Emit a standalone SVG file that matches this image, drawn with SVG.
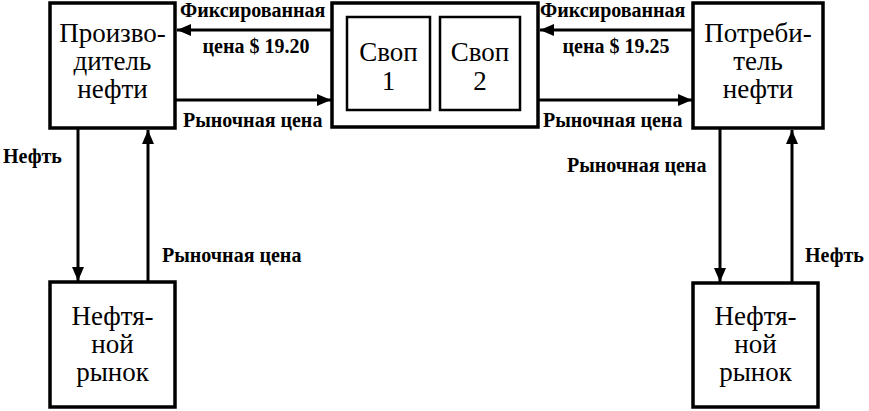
<svg xmlns="http://www.w3.org/2000/svg" width="869" height="411" viewBox="0 0 869 411">
<style>
.box{fill:#fff;stroke:#000;stroke-width:3.5}
.ibox{fill:#fff;stroke:#000;stroke-width:2.5}
.bt{font-family:'Liberation Serif','Times New Roman','DejaVu Serif','Noto Serif',serif;font-size:27px;text-anchor:middle;fill:#000}
.lb{font-family:'Liberation Serif','Times New Roman','DejaVu Serif','Noto Serif',serif;font-size:20px;font-weight:bold;fill:#000}
.ln{stroke:#000;stroke-width:3;fill:none}
</style>
<defs>
<marker id="ah" viewBox="0 0 14 12" refX="14" refY="6" markerWidth="14" markerHeight="12" markerUnits="userSpaceOnUse" orient="auto">
<path d="M0,0 L14,6 L0,12 Z" fill="#000"/>
</marker>
</defs>
<g id="connectors">
<line class="ln" x1="332" y1="30" x2="177" y2="30" marker-end="url(#ah)"/>
<line class="ln" x1="175" y1="100" x2="331" y2="100" marker-end="url(#ah)"/>
<line class="ln" x1="693" y1="30" x2="540" y2="30" marker-end="url(#ah)"/>
<line class="ln" x1="538" y1="100" x2="692" y2="100" marker-end="url(#ah)"/>
<line class="ln" x1="78" y1="128" x2="78" y2="281" marker-end="url(#ah)"/>
<line class="ln" x1="148" y1="282" x2="148" y2="130" marker-end="url(#ah)"/>
<line class="ln" x1="720" y1="128" x2="720" y2="282" marker-end="url(#ah)"/>
<line class="ln" x1="792" y1="283" x2="792" y2="130" marker-end="url(#ah)"/>
<text class="lb" x="180" y="17">Фиксированная</text>
<text class="lb" x="256" y="53" text-anchor="middle">цена $ 19.20</text>
<text class="lb" x="183" y="127">Рыночная цена</text>
<text class="lb" x="540" y="17">Фиксированная</text>
<text class="lb" x="616" y="53" text-anchor="middle">цена $ 19.25</text>
<text class="lb" x="543" y="127">Рыночная цена</text>
<text class="lb" x="3" y="163">Нефть</text>
<text class="lb" x="162" y="262">Рыночная цена</text>
<text class="lb" x="567" y="172">Рыночная цена</text>
<text class="lb" x="805" y="262">Нефть</text>
</g>
<g id="producer">
<rect class="box" x="50" y="3" width="125" height="125"/>
<text class="bt" x="112.5" y="42">Произво-</text>
<text class="bt" x="112.5" y="70">дитель</text>
<text class="bt" x="112.5" y="98">нефти</text>
</g>
<g id="swaps">
<rect class="box" x="332" y="3" width="206" height="124"/>
</g>
<g id="swap1">
<rect class="ibox" x="347" y="17" width="83" height="93"/>
<text class="bt" x="388.5" y="61">Своп</text>
<text class="bt" x="388.5" y="90">1</text>
</g>
<g id="swap2">
<rect class="ibox" x="440" y="17" width="80" height="93"/>
<text class="bt" x="480" y="61">Своп</text>
<text class="bt" x="480" y="90">2</text>
</g>
<g id="consumer">
<rect class="box" x="693" y="3" width="130" height="125"/>
<text class="bt" x="758" y="42">Потреби-</text>
<text class="bt" x="758" y="70">тель</text>
<text class="bt" x="758" y="98">нефти</text>
</g>
<g id="market-left">
<rect class="box" x="50" y="282" width="125" height="125"/>
<text class="bt" x="112.5" y="325">Нефтя-</text>
<text class="bt" x="112.5" y="353">ной</text>
<text class="bt" x="112.5" y="381">рынок</text>
</g>
<g id="market-right">
<rect class="box" x="693" y="283" width="125" height="124"/>
<text class="bt" x="755.5" y="325">Нефтя-</text>
<text class="bt" x="755.5" y="353">ной</text>
<text class="bt" x="755.5" y="381">рынок</text>
</g>
</svg>
